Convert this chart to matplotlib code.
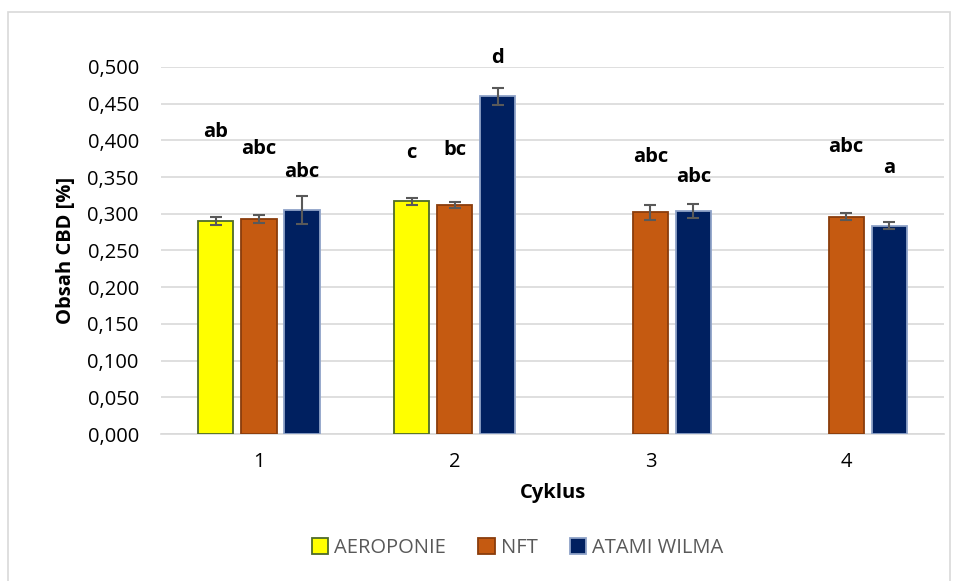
import matplotlib
matplotlib.use('Agg')
import matplotlib.pyplot as plt
import numpy as np
from matplotlib.patches import Rectangle
from matplotlib.ticker import FuncFormatter

CYCLES = ['1', '2', '3', '4']
SERIES = ['AEROPONIE', 'NFT', 'ATAMI WILMA']

AERO = [0.290, 0.317, np.nan, np.nan]
NFT = [0.293, 0.312, 0.302, 0.296]
ATAMI = [0.305, 0.460, 0.304, 0.284]

AERO_ERR = [0.005, 0.005, 0, 0]
NFT_ERR = [0.005, 0.004, 0.010, 0.005]
ATAMI_ERR = [0.019, 0.012, 0.010, 0.005]

# significance letters and the height they sit at
AERO_LBL = ['ab', 'c', '', '']
NFT_LBL = ['abc', 'bc', 'abc', 'abc']
ATAMI_LBL = ['abc', 'd', 'abc', 'a']
AERO_LBL_Y = [0.412, 0.383, 0, 0]
NFT_LBL_Y = [0.388, 0.387, 0.378, 0.391]
ATAMI_LBL_Y = [0.357, 0.512, 0.350, 0.362]

FACE = ['#FFFF00', '#C55A11', '#002060']
EDGE = ['#4E6B2A', '#8A3D0C', '#8FA3C8']

plt.rcParams['font.family'] = ['Open Sans', 'DejaVu Sans']

fig = plt.figure(figsize=(9.55, 5.81), dpi=100)
ax = fig.add_axes([0.1686, 0.253, 0.8199, 0.6317])

ind = np.arange(len(CYCLES))
width = 0.18
step = 0.22

vals = [AERO, NFT, ATAMI]
errs = [AERO_ERR, NFT_ERR, ATAMI_ERR]
lbls = [AERO_LBL, NFT_LBL, ATAMI_LBL]
lbl_y = [AERO_LBL_Y, NFT_LBL_Y, ATAMI_LBL_Y]

for i in range(3):
    x = ind + (i - 1) * step
    v = np.array(vals[i], dtype=float)
    ax.bar(x, v, width, color=FACE[i], edgecolor=EDGE[i], linewidth=1.3,
           label=SERIES[i], zorder=3)
    ok = ~np.isnan(v)
    ax.errorbar(x[ok], v[ok], yerr=np.array(errs[i])[ok], fmt='none',
                ecolor='#595959', elinewidth=1.5, capsize=4.5, capthick=1.5,
                zorder=4)
    for xx, t, yy in zip(x, lbls[i], lbl_y[i]):
        if t:
            ax.text(xx, yy, t, ha='center', va='center', fontsize=14.5,
                    fontweight='bold', color='black', clip_on=False)

ax.set_xlim(-0.5, 3.5)
ax.set_ylim(0, 0.5)
ax.set_yticks(np.arange(0, 0.501, 0.05))
ax.yaxis.set_major_formatter(FuncFormatter(lambda v, p: ('%.3f' % v).replace('.', ',')))
ax.set_xticks(ind)
ax.set_xticklabels(CYCLES)
ax.tick_params(axis='both', length=0, labelsize=14.5, labelcolor='#000000')
ax.tick_params(axis='y', pad=16)
ax.tick_params(axis='x', pad=13)

ax.grid(axis='y', color='#D9D9D9', linewidth=1.2, zorder=0)
ax.set_axisbelow(True)
for s in ['top', 'right', 'left']:
    ax.spines[s].set_visible(False)
ax.spines['bottom'].set_color('#D9D9D9')
ax.spines['bottom'].set_linewidth(1.2)

ax.set_xlabel('Cyklus', fontsize=14.5, fontweight='bold', labelpad=8)
ax.set_ylabel('Obsah CBD [%]', fontsize=14.5, fontweight='bold', labelpad=8)

leg = fig.legend(loc='center', bbox_to_anchor=(0.542, 0.057), ncol=3,
                 frameon=False, fontsize=14.5, handlelength=0.8, handleheight=0.8,
                 handletextpad=0.3, columnspacing=1.6)
for t in leg.get_texts():
    t.set_color('#595959')

# chart area border
fig.patches.append(Rectangle((0.008, -0.01), 0.987, 0.99, transform=fig.transFigure,
                             fill=False, edgecolor='#D9D9D9', linewidth=1.2))

fig.savefig('out.png', dpi=100)
